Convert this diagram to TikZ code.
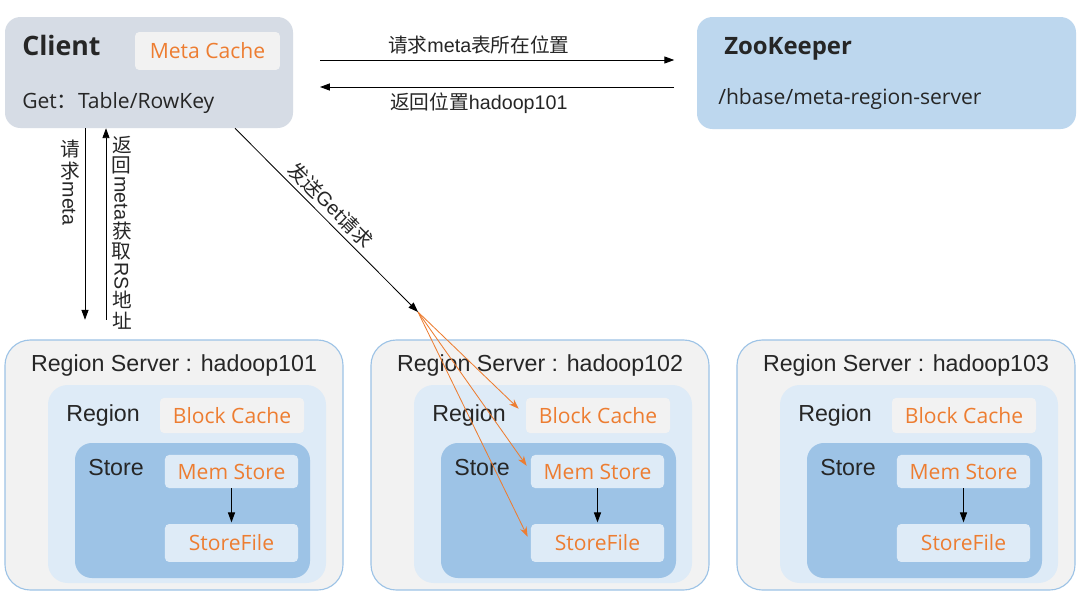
\documentclass[tikz,border=0pt]{standalone}
\usepackage{fontspec}
\setmainfont{Liberation Sans}
\newfontfamily\cjk{Noto Sans CJK SC}
\newfontfamily\osans{Open Sans}
\usetikzlibrary{positioning, arrows.meta, fit, calc}
\definecolor{HBGray}{RGB}{214,220,229}
\definecolor{HBBlue}{RGB}{189,215,238}
\definecolor{HBPale}{RGB}{222,235,247}
\definecolor{HBMid}{RGB}{157,195,230}
\definecolor{HBLight}{RGB}{242,242,242}
\definecolor{HBOrange}{RGB}{237,125,49}
\definecolor{HBText}{RGB}{38,38,38}
\newcommand{\up}[1]{\kern1.2pt\rotatebox[origin=c]{90}{\cjk #1}\kern1.2pt}

\begin{document}
\begin{tikzpicture}[x=0.025cm, y=-0.025cm,
    rsbox/.style={draw=HBMid, line width=0.8pt, fill=HBLight, rounded corners=18pt, inner sep=0pt},
    regbox/.style={fill=HBPale, rounded corners=14pt, inner sep=0pt},
    storebox/.style={fill=HBMid, rounded corners=12pt, inner sep=0pt},
    cachebox/.style={fill=HBLight, rounded corners=3pt, inner sep=0pt, text=HBOrange,
                     font=\osans\fontsize{15}{15}\selectfont, minimum width=102.4pt, minimum height=25pt},
    membox/.style={cachebox, fill=HBPale, minimum width=94.6pt, minimum height=23.5pt},
    lbl/.style={text=HBText, font=\fontsize{16.5}{19}\selectfont, inner sep=0pt},
    cn/.style={text=HBText, font=\fontsize{14}{16}\selectfont, inner sep=1pt},
    arr/.style={-{Triangle[length=7pt,width=5pt]}, line width=0.6pt},
    oarr/.style={-{Stealth[length=7pt,width=5pt]}, HBOrange, line width=0.6pt}]
  \useasboundingbox[fill=white] (0,0) rectangle (1080,613);

  % Client and ZooKeeper
  \node[fill=HBGray, rounded corners=11pt, inner sep=0pt, fit={(5,17) (293,128)}] (client) {};
  \node[lbl, anchor=west, font=\osans\bfseries\fontsize{19}{19}\selectfont] (clientname) at (22,45) {Client};
  \node[cachebox, minimum width=103pt, minimum height=27pt] (meta) at (207.5,51) {Meta Cache};
  \node[lbl, anchor=west, font=\osans\fontsize{15}{15}\selectfont] (getkey) at (22,103) {Get{\cjk ：}Table/RowKey};

  \node[fill=HBBlue, rounded corners=11pt, inner sep=0pt, fit={(697,17) (1076,129)}] (zk) {};
  \node[lbl, anchor=west, font=\osans\bfseries\fontsize{17}{17}\selectfont] (zkname) at (724,49) {ZooKeeper};
  \node[lbl, anchor=west, font=\osans\fontsize{15}{15}\selectfont] (zkpath) at (718,99) {/hbase/meta-region-server};

  % Region Servers
  \foreach \i/\dx in {1/0, 2/366, 3/732} {
    \node[rsbox, fit={(5+\dx,340) (343+\dx,590)}] (rs\i) {};
    \node[lbl] (rstitle\i) at (174+\dx,365) {Region Server : hadoop10\i};
    \node[regbox, fit={(48+\dx,385) (326+\dx,583)}] (reg\i) {};
    \node[lbl, anchor=west] (regname\i) at (66+\dx,415) {Region};
    \node[cachebox] (blk\i) at (232+\dx,415.5) {Block Cache};
    \node[storebox, fit={(75+\dx,443) (310+\dx,578)}] (store\i) {};
    \node[lbl, anchor=west] (storename\i) at (88+\dx,468) {Store};
    \node[membox] (mem\i) at (231.5+\dx,471.5) {Mem Store};
    \node[membox, minimum height=27pt] (sf\i) at (231.5+\dx,543) {StoreFile};
    \draw[arr, shorten >=1pt] (mem\i) -- (sf\i);
  }

  % Client <-> ZooKeeper
  \coordinate (ya) at (0,60);
  \coordinate (yb) at (0,87);
  \draw[arr, shorten <=19pt, shorten >=16pt] (client.east |- ya) -- (zk.west |- ya)
    node[cn, pos=0.46, above=3pt] {{\cjk 请求}meta{\cjk 表所在位置}};
  \draw[arr, shorten <=16pt, shorten >=19pt] (zk.west |- yb) -- (client.east |- yb)
    node[cn, pos=0.54, below=3pt] {{\cjk 返回位置}hadoop101};

  % Client <-> meta region server
  \coordinate (xd) at (85,0);
  \coordinate (xu) at (106,0);
  \draw[arr, shorten >=14pt] (client.south -| xd) -- (rs1.north -| xd);
  \draw[arr, shorten <=14pt] (rs1.north -| xu) -- (client.south -| xu);
  \node[cn, rotate=-90, anchor=west] (askmeta) at (70,137) {\up{请}\up{求}meta};
  \node[cn, rotate=-90, anchor=west] (backmeta) at (122,133) {\up{返}\up{回}meta\up{获}\up{取}RS\up{地}\up{址}};

  % Get request to hadoop102
  \coordinate (gs) at (235,0);
  \coordinate (hit) at (418,312);
  \draw[arr] (client.south -| gs) -- (hit)
    node[cn, pos=0.47, sloped, above=2pt] {{\cjk 发送}Get{\cjk 请求}};
  \draw[oarr, shorten >=7pt] (hit) -- (blk2.west);
  \draw[oarr, shorten >=5pt] (hit) -- (mem2.west);
  \draw[oarr, shorten >=5pt] (hit) -- (sf2.west);
\end{tikzpicture}
\end{document}
